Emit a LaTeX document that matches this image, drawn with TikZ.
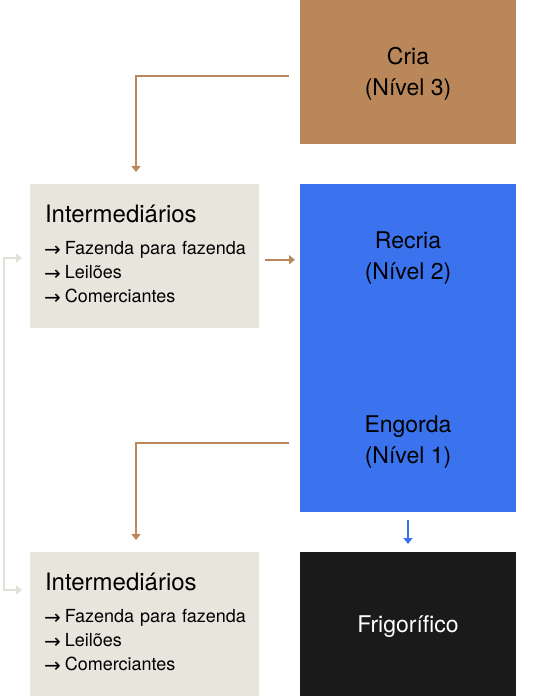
\documentclass[tikz,border=0pt]{standalone}
\usepackage{fontspec}
\setmainfont{TeX Gyre Heros}
\newfontfamily\arrowfont{DejaVu Sans}
\usetikzlibrary{positioning,arrows.meta,calc}
\definecolor{criabrown}{HTML}{B98759}
\definecolor{levelblue}{HTML}{3B73EE}
\definecolor{interbg}{HTML}{E8E5DD}
\definecolor{interline}{HTML}{E3E0D8}
\definecolor{frigblack}{HTML}{1A1A1A}
\newcommand{\via}[1]{\mbox{\hspace{-1pt}\raisebox{-1.5pt}[\height][\depth]{\arrowfont\fontsize{20}{24}\selectfont →}\hspace{4pt}#1}}
\newcommand{\interhead}{\raisebox{3pt}[\height][\depth]{\fontsize{24}{24}\selectfont Intermediários}}

\begin{document}
\begin{tikzpicture}[x=1pt, y=-1pt,
  level/.style={minimum width=216pt, minimum height=143.5pt, inner sep=0pt, outer sep=0pt,
    align=center, font=\fontsize{23}{31}\selectfont, text depth=-3pt, anchor=north west},
  inter/.style={fill=interbg, text width=199pt, inner sep=15pt, outer sep=0pt,
    minimum height=143.5pt, align=left, anchor=north west, font=\fontsize{18}{24}\selectfont},
  brownarr/.style={-{Triangle[width=9pt, length=6pt]}, line width=2pt, criabrown},
  bluearr/.style={-{Triangle[width=9pt, length=6pt]}, line width=2pt, levelblue},
  greyarr/.style={{Triangle[width=9pt, length=6pt]}-{Triangle[width=9pt, length=6pt]}, line width=2pt, interline}]
\useasboundingbox (0,0) rectangle (540,698);
% producer levels
\node[level, fill=criabrown] (cria) at (300,0) {Cria\\(Nível 3)};
\node[level, fill=levelblue] (recria) at (300,184) {Recria\\(Nível 2)};
\node[level, fill=levelblue] (engorda) at (300,368) {Engorda\\(Nível 1)};
\fill[levelblue] (recria.south west) rectangle (engorda.north east);
\node[level, fill=frigblack, text=white] (frig) at (300,552) {Frigorífico};
% middlemen
\node[inter] (int1) at (30,184) {\interhead\\[5pt]
  \via{Fazenda para fazenda}\\ \via{Leilões}\\ \via{Comerciantes}};
\node[inter] (int2) at (30,552) {\interhead\\[5pt]
  \via{Fazenda para fazenda}\\ \via{Leilões}\\ \via{Comerciantes}};
% flows
\draw[brownarr, shorten <=11pt, shorten >=12pt] ([yshift=-4pt]cria.west) -| ($(int1.north west)+(106,0)$);
\draw[brownarr, shorten <=6pt, shorten >=5pt] ([yshift=-4pt]int1.east) -- ([yshift=-4pt]recria.west);
\draw[brownarr, shorten <=11pt, shorten >=12pt] ([yshift=-3pt]engorda.west) -| ($(int2.north west)+(106,0)$);
\draw[bluearr, shorten <=8pt, shorten >=8pt] (engorda.south) -- (frig.north);
\draw[greyarr, shorten <=8pt, shorten >=8pt] ($(int1.north west)+(0,74)$) -- ++(-26,0)
  |- ($(int2.north west)+(0,38)$);
\end{tikzpicture}
\end{document}
